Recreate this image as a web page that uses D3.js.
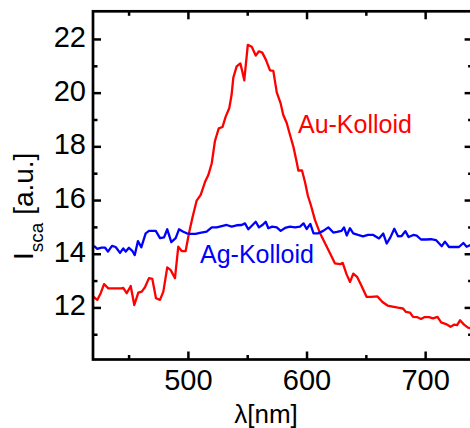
<!DOCTYPE html>
<html>
<head>
<meta charset="utf-8">
<script src="https://cdn.jsdelivr.net/npm/d3@7"></script>
<style>
  body { margin: 0; background: #fff; }
  svg { display: block; font-family: "Liberation Sans", Arial, sans-serif; }
</style>
</head>
<body>
<div id="chart"></div>
<script>
// Au-Kolloid (red)
var auLambda = [420.3, 423.6, 426.5, 429.3, 432.9, 437.1, 444.2, 445.5, 448.4, 451.8, 454.8, 458.2, 461.1, 463.8, 467.2, 470.0,
  473.1, 476.5, 479.3, 482.6, 485.5, 489.1, 491.9, 494.8, 498.1, 500.9, 504.0, 507.4, 510.8, 514.4, 517.2, 520.1,
  522.8, 526.0, 529.2, 531.7, 534.9, 536.8, 538.3, 541.1, 544.2, 545.9, 547.5, 550.5, 553.8, 557.2, 559.9, 562.7,
  565.8, 569.2, 572.0, 574.9, 578.1, 580.4, 583.3, 586.1, 588.9, 591.7, 593.1, 596.2, 598.7, 601.2, 603.4, 607.1,
  611.4, 615.6, 619.8, 624.0, 628.2, 630.5, 633.7, 636.7, 639.4, 642.6, 646.5, 650.7, 654.4, 659.8, 664.0, 668.3,
  672.5, 677.1, 681.3, 683.9, 687.2, 689.8, 693.1, 696.5, 699.6, 703.3, 706.6, 710.4, 713.5, 717.6, 721.4, 724.7,
  726.9, 729.4, 732.8, 736.1, 739.1];
var auIntensity = [12.40, 12.28, 12.53, 12.87, 12.71, 12.71, 12.71, 12.73, 12.53, 12.80, 12.09, 12.55, 12.59, 12.75, 13.09, 13.06,
  12.34, 12.28, 12.59, 13.49, 13.39, 13.09, 14.26, 14.10, 14.10, 14.76, 15.38, 15.98, 16.19, 16.67, 16.93, 17.37,
  18.20, 18.67, 18.72, 19.09, 19.43, 19.91, 20.56, 20.98, 21.09, 20.78, 20.46, 21.78, 21.71, 21.38, 21.54, 21.49,
  21.22, 20.83, 20.81, 20.01, 19.61, 19.17, 18.87, 18.42, 17.99, 17.42, 17.10, 17.10, 16.67, 16.15, 15.85, 15.26,
  14.76, 14.39, 14.02, 13.64, 13.61, 13.66, 13.24, 12.95, 13.26, 13.14, 12.79, 12.39, 12.39, 12.41, 12.20, 12.07,
  12.03, 11.99, 11.96, 11.83, 11.81, 11.65, 11.64, 11.57, 11.64, 11.64, 11.59, 11.65, 11.44, 11.38, 11.28, 11.36,
  11.34, 11.52, 11.36, 11.25, 11.21];

// Ag-Kolloid (blue)
var agLambda = [420.8, 423.6, 427.2, 430.1, 432.6, 436.0, 439.1, 442.8, 445.5, 447.6, 450.3, 453.1, 455.2, 457.9, 460.7, 464.4,
  467.2, 472.9, 476.5, 479.9, 482.6, 486.0, 489.7, 492.5, 496.1, 499.0, 502.4, 506.4, 510.2, 515.8, 520.1, 524.3,
  528.5, 532.7, 536.9, 541.1, 545.4, 548.1, 550.9, 554.3, 557.2, 559.9, 563.1, 565.6, 567.8, 571.1, 574.9, 578.2,
  581.9, 586.1, 590.3, 594.5, 597.5, 600.1, 603.2, 605.9, 609.9, 614.1, 618.4, 622.6, 625.7, 629.5, 631.6, 633.9,
  636.6, 639.4, 643.4, 647.6, 651.8, 656.3, 661.1, 664.7, 667.6, 670.6, 674.0, 677.1, 680.2, 683.3, 686.1, 690.0,
  692.9, 696.5, 700.7, 704.9, 709.1, 714.0, 716.7, 720.1, 724.3, 728.5, 732.2, 735.0, 738.6];
var agIntensity = [14.29, 14.18, 14.23, 14.23, 14.08, 14.29, 14.25, 14.03, 14.20, 14.08, 14.22, 14.11, 13.95, 14.47, 14.24, 14.76,
  14.85, 14.85, 14.58, 14.61, 14.91, 14.43, 14.58, 14.91, 14.82, 14.76, 14.74, 14.74, 14.78, 14.82, 14.98, 14.98,
  15.03, 15.07, 15.01, 15.06, 15.07, 15.13, 14.91, 15.06, 15.19, 14.98, 15.08, 15.19, 14.95, 15.01, 14.98, 14.85,
  14.96, 15.01, 14.98, 15.01, 15.13, 14.92, 15.11, 14.76, 14.76, 14.85, 14.98, 14.79, 14.81, 14.85, 14.98, 14.68,
  14.95, 14.76, 14.70, 14.65, 14.70, 14.70, 14.57, 14.75, 14.38, 14.60, 14.93, 14.65, 14.66, 14.84, 14.62, 14.70,
  14.67, 14.53, 14.53, 14.54, 14.51, 14.28, 14.45, 14.25, 14.25, 14.25, 14.40, 14.26, 14.33];

var xMajor = [500, 600, 700];
var xMinor = [450, 550, 650];
var yMajor = [12, 14, 16, 18, 20, 22];
var yMinor = [11, 13, 15, 17, 19, 21];

var seriesNames = ["Au-Kolloid", "Ag-Kolloid"];
var seriesColors = ["#ff0000", "#0000ff"];
var labelLambda = [592.8, 510.2];
var labelIntensity = [18.49, 13.64];

var width = 470, height = 428;
var plotLeft = 93, plotRight = 472.6, plotTop = 11.3, plotBottom = 359.5;

var x = d3.scaleLinear().domain([420, 740]).range([plotLeft, plotRight]);
var y = d3.scaleLinear().domain([10.06, 23.03]).range([plotBottom, plotTop]);

var svg = d3.select("#chart")
    .append("svg")
    .attr("width", width)
    .attr("height", height);

svg.append("defs").append("clipPath")
    .attr("id", "plotclip")
    .append("rect")
    .attr("x", plotLeft)
    .attr("y", plotTop)
    .attr("width", plotRight - plotLeft)
    .attr("height", plotBottom - plotTop);

// curves
var series = [
    d3.zip(auLambda, auIntensity),
    d3.zip(agLambda, agIntensity)
];
var line = d3.line()
    .x(function(d) { return x(d[0]); })
    .y(function(d) { return y(d[1]); });

svg.append("g")
    .attr("clip-path", "url(#plotclip)")
    .selectAll("path")
    .data(series)
    .enter()
    .append("path")
    .attr("d", line)
    .attr("fill", "none")
    .attr("stroke", function(d, i) { return seriesColors[i]; })
    .attr("stroke-width", 2.3)
    .attr("stroke-linejoin", "round");

// axes, ticks pointing inward
function styleAxis(g) {
    g.select(".domain").remove();
    g.selectAll(".tick line").attr("stroke", "#000").attr("stroke-width", 2.5);
    g.selectAll("text")
        .attr("fill", "#000")
        .style("font-size", "29px")
        .style("font-family", "'Liberation Sans', Arial, sans-serif");
}

svg.append("g")
    .attr("transform", "translate(0," + plotBottom + ")")
    .call(d3.axisBottom(x).tickValues(xMajor).tickSizeInner(-8).tickSizeOuter(0).tickPadding(10))
    .call(styleAxis);
svg.append("g")
    .attr("transform", "translate(0," + plotBottom + ")")
    .call(d3.axisBottom(x).tickValues(xMinor).tickSizeInner(-4.5).tickSizeOuter(0).tickFormat(""))
    .call(styleAxis);
svg.append("g")
    .attr("transform", "translate(0," + plotTop + ")")
    .call(d3.axisTop(x).tickValues(xMajor).tickSizeInner(-8).tickSizeOuter(0).tickFormat(""))
    .call(styleAxis);
svg.append("g")
    .attr("transform", "translate(0," + plotTop + ")")
    .call(d3.axisTop(x).tickValues(xMinor).tickSizeInner(-4.5).tickSizeOuter(0).tickFormat(""))
    .call(styleAxis);

var yAxisG = svg.append("g")
    .attr("transform", "translate(" + plotLeft + ",0)")
    .call(d3.axisLeft(y).tickValues(yMajor).tickSizeInner(-8).tickSizeOuter(0).tickPadding(7))
    .call(styleAxis);
yAxisG.selectAll("text").attr("dy", "0.26em");
svg.append("g")
    .attr("transform", "translate(" + plotLeft + ",0)")
    .call(d3.axisLeft(y).tickValues(yMinor).tickSizeInner(-4.5).tickSizeOuter(0).tickFormat(""))
    .call(styleAxis);
svg.append("g")
    .attr("transform", "translate(" + plotRight + ",0)")
    .call(d3.axisRight(y).tickValues(yMajor).tickSizeInner(-8).tickSizeOuter(0).tickFormat(""))
    .call(styleAxis);
svg.append("g")
    .attr("transform", "translate(" + plotRight + ",0)")
    .call(d3.axisRight(y).tickValues(yMinor).tickSizeInner(-4.5).tickSizeOuter(0).tickFormat(""))
    .call(styleAxis);

// frame
svg.append("rect")
    .attr("x", plotLeft)
    .attr("y", plotTop)
    .attr("width", plotRight - plotLeft)
    .attr("height", plotBottom - plotTop)
    .attr("fill", "none")
    .attr("stroke", "#000")
    .attr("stroke-width", 2.7);

// series labels
svg.selectAll("text.serieslabel")
    .data(seriesNames)
    .enter()
    .append("text")
    .attr("class", "serieslabel")
    .attr("x", function(d, i) { return x(labelLambda[i]); })
    .attr("y", function(d, i) { return y(labelIntensity[i]); })
    .attr("fill", function(d, i) { return seriesColors[i]; })
    .style("font-size", "25px")
    .text(function(d) { return d; });

// axis titles
svg.append("text")
    .attr("x", 266)
    .attr("y", 423)
    .attr("text-anchor", "middle")
    .style("font-size", "26px")
    .text("λ[nm]");

var ytitle = svg.append("text")
    .attr("transform", "translate(33,260) rotate(-90)")
    .style("font-size", "28px");
ytitle.append("tspan").text("I");
ytitle.append("tspan").attr("dy", 10).style("font-size", "19px").text("sca");
ytitle.append("tspan").attr("dy", -10).text(" [a.u.]");
</script>
</body>
</html>
